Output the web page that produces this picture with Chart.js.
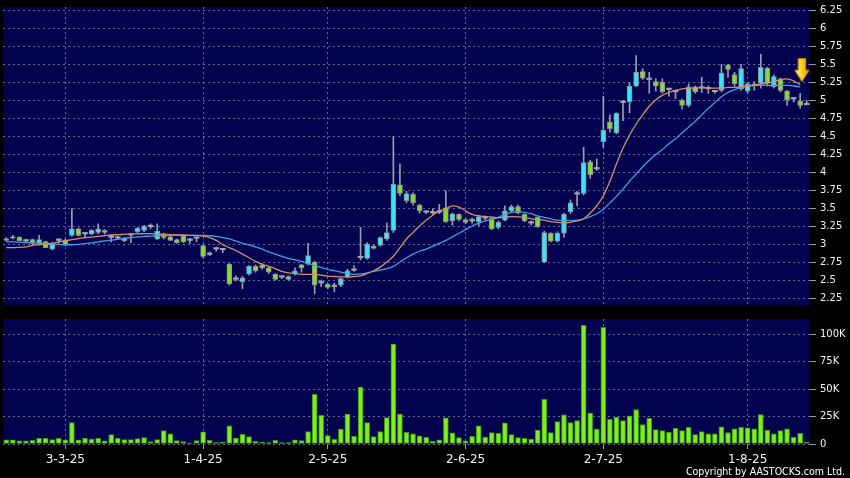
<!DOCTYPE html>
<html><head><meta charset="utf-8">
<script src="https://cdn.jsdelivr.net/npm/chart.js@4.4.1/dist/chart.umd.min.js"></script>
<style>
html,body{margin:0;padding:0;background:#000;width:850px;height:478px;overflow:hidden;}
#wrap{position:relative;width:850px;height:478px;background:#000;}
#pc{position:absolute;left:0;top:0;}
#vc{position:absolute;left:0;top:312px;}
#copy{position:absolute;right:5px;top:465px;color:#fff;font-family:'DejaVu Sans Condensed','DejaVu Sans',sans-serif;font-size:10.5px;line-height:12px;white-space:nowrap;}
</style></head>
<body><div id="wrap">
<canvas id="pc" width="850" height="312"></canvas>
<canvas id="vc" width="850" height="166"></canvas>
<div id="copy">Copyright by AASTOCKS.com Ltd.</div>
</div>
<script>
// ---- data ----
const opens  = [3.06,3.09,3.105,3.05,3.07,3.02,3.045,2.94,3.06,3.065, 3.13,3.22,3.15,3.15,3.17,3.20,3.10,3.09,3.06,3.15, 3.18,3.20,3.25,3.08,3.15,3.11,3.07,3.12,3.06,3.09, 2.99,2.86,2.94,2.93,2.73,2.52,2.49,2.60,2.70,2.72, 2.68,2.59,2.55,2.52,2.60,2.72,2.73,2.76,2.47,2.45, 2.42,2.44,2.55,2.64,2.82,2.81,2.95,2.99,3.08,3.20, 3.83,3.61,3.70,3.55,3.45,3.44,3.45,3.51,3.33,3.42, 3.35,3.33,3.32,3.37,3.37,3.24,3.34,3.47,3.53,3.42, 3.30,3.38,2.76,3.16,3.05,3.16,3.46,3.70,3.71,4.15, 4.05,4.43,4.70,4.55,4.97,4.98,5.20,5.40,5.29,5.26, 5.25,5.15,5.12,5.00,4.93,5.19,5.17,5.16,5.12,5.14, 5.49,5.36,5.16,5.13,5.23,5.24,5.45,5.19,5.30,5.13, 5.02,4.99,4.94];
const highs  = [3.10,3.13,3.11,3.08,3.08,3.13,3.05,3.03,3.08,3.08, 3.50,3.23,3.17,3.21,3.29,3.21,3.14,3.12,3.10,3.16, 3.24,3.27,3.29,3.29,3.16,3.12,3.08,3.13,3.09,3.10, 3.00,2.90,2.96,2.94,2.74,2.57,2.56,2.71,2.72,2.74, 2.69,2.60,2.57,2.57,2.68,2.73,3.02,2.77,2.51,2.46, 2.47,2.54,2.66,2.71,3.24,3.03,3.00,3.11,3.30,4.50, 4.12,3.74,3.72,3.56,3.47,3.50,3.56,3.75,3.44,3.43, 3.36,3.37,3.41,3.40,3.38,3.33,3.54,3.55,3.55,3.43, 3.33,3.39,3.19,3.17,3.18,3.44,3.62,3.74,4.35,4.17, 4.19,5.06,4.80,4.83,5.00,5.25,5.62,5.44,5.39,5.30, 5.30,5.17,5.13,5.02,5.23,5.20,5.32,5.20,5.14,5.50, 5.50,5.39,5.50,5.25,5.26,5.64,5.46,5.35,5.31,5.14, 5.04,5.10,5.00];
const lows   = [3.05,3.08,3.05,3.03,2.99,3.01,2.96,2.93,3.02,2.99, 3.12,3.12,3.10,3.14,3.15,3.15,3.04,3.07,3.04,3.03, 3.16,3.18,3.22,3.07,3.08,3.06,3.02,3.03,3.02,3.04, 2.82,2.85,2.91,2.89,2.44,2.50,2.39,2.58,2.62,2.66, 2.60,2.51,2.53,2.51,2.58,2.62,2.72,2.32,2.42,2.39, 2.35,2.42,2.54,2.63,2.79,2.80,2.94,2.98,3.06,3.17, 3.68,3.58,3.55,3.44,3.43,3.42,3.43,3.31,3.27,3.33, 3.29,3.30,3.26,3.34,3.21,3.22,3.33,3.45,3.43,3.32, 3.27,3.24,2.75,3.04,3.04,3.10,3.43,3.54,3.69,3.92, 4.03,4.35,4.56,4.54,4.72,4.83,5.19,5.29,5.10,5.13, 5.10,5.06,5.02,4.88,4.91,5.10,5.11,5.10,5.10,5.12, 5.32,5.20,5.14,5.10,5.14,5.17,5.20,5.17,5.12,4.93, 4.98,4.89,4.94];
const closes = [3.08,3.11,3.055,3.05,3.02,3.07,2.96,3.02,3.06,3.00, 3.22,3.13,3.15,3.20,3.22,3.17,3.10,3.09,3.06,3.13, 3.23,3.26,3.25,3.19,3.10,3.06,3.03,3.04,3.06,3.09, 2.84,2.89,2.94,2.93,2.46,2.52,2.54,2.70,2.64,2.68, 2.62,2.52,2.55,2.56,2.64,2.68,2.85,2.44,2.47,2.41, 2.42,2.53,2.64,2.67,2.82,3.01,2.98,3.10,3.17,3.84, 3.71,3.71,3.58,3.47,3.45,3.44,3.45,3.32,3.43,3.35, 3.31,3.33,3.39,3.37,3.22,3.31,3.47,3.53,3.44,3.33, 3.30,3.25,3.17,3.05,3.16,3.42,3.58,3.70,4.14,3.97, 4.05,4.59,4.61,4.82,4.97,5.20,5.39,5.31,5.29,5.20, 5.12,5.15,5.12,4.93,5.19,5.12,5.17,5.16,5.12,5.38, 5.43,5.23,5.44,5.23,5.20,5.46,5.24,5.33,5.14,5.01, 5.02,4.93,4.94];
// volume in thousands of shares
const volumesK = [3.7,3.7,2.8,2.8,3.4,5.2,5.2,4.0,5.2,3.7, 19.6,3.7,5.5,4.6,5.2,2.8,8.6,5.2,4.0,4.0, 4.9,5.8,2.1,4.0,12.3,9.2,3.1,2.1,0.9,3.1, 11.0,3.4,1.2,1.8,16.6,5.5,8.9,6.8,2.5,1.8, 1.2,3.4,1.2,1.2,3.7,3.1,11.4,45.4,26.1,7.7, 4.3,13.5,27.3,7.1,51.9,19.6,6.8,11.4,24.0,91.2, 27.3,10.7,9.2,7.4,6.1,2.4,3.7,23.9,10.1,5.8, 2.8,7.0,16.5,6.4,10.4,9.8,19.3,8.6,5.8,5.2, 4.6,12.8,40.7,10.4,20.5,26.6,19.6,21.4,108.3,28.1, 13.5,106.4,22.6,24.5,21.4,25.7,31.5,17.7,23.5,13.1, 12.2,10.7,14.4,12.2,15.3,8.6,11.3,9.2,9.2,15.6, 10.4,13.8,15.3,14.7,13.8,26.9,12.8,9.2,12.2,13.8, 6.4,9.8,1.8];
const maShort = [2.96,2.96,2.965,2.97,2.99,3.0,3.01,3.02,3.04,3.055, 3.07,3.085,3.10,3.105,3.115,3.125,3.135,3.14,3.145,3.15, 3.15,3.155,3.155,3.15,3.145,3.14,3.135,3.135,3.13,3.13, 3.12,3.10,3.06,3.0,2.96,2.92,2.87,2.82,2.77,2.73, 2.70,2.67,2.63,2.61,2.60,2.59,2.59,2.59,2.58,2.565, 2.56,2.555,2.555,2.56,2.57,2.60,2.64,2.69,2.76,2.84, 2.96,3.08,3.17,3.26,3.34,3.41,3.47,3.50,3.54,3.52, 3.47,3.42,3.40,3.39,3.385,3.375,3.38,3.39,3.385,3.375, 3.36,3.35,3.34,3.32,3.31,3.30,3.31,3.33,3.36,3.44, 3.54,3.68,3.88,4.12,4.34,4.52,4.67,4.80,4.92,5.01, 5.07,5.11,5.14,5.16,5.17,5.17,5.18,5.17,5.17,5.17, 5.18,5.18,5.19,5.20,5.21,5.23,5.24,5.26,5.29,5.30, 5.27,5.22,null];
const maLong = [3.04,3.04,3.035,3.03,3.025,3.02,3.015,3.01,3.005,3.0, 3.0,3.005,3.015,3.025,3.04,3.055,3.065,3.075,3.09,3.10, 3.11,3.115,3.12,3.125,3.13,3.13,3.13,3.13,3.13,3.13, 3.13,3.125,3.115,3.10,3.08,3.05,3.02,3.0,2.97,2.94, 2.90,2.87,2.84,2.81,2.79,2.77,2.74,2.71,2.685,2.66, 2.64,2.62,2.60,2.59,2.595,2.61,2.63,2.65,2.67,2.70, 2.76,2.82,2.87,2.91,2.94,2.98,3.02,3.06,3.11,3.16, 3.21,3.26,3.30,3.33,3.35,3.38,3.42,3.45,3.46,3.45, 3.43,3.40,3.38,3.36,3.34,3.335,3.335,3.34,3.36,3.39, 3.43,3.49,3.58,3.67,3.77,3.88,3.98,4.08,4.17,4.25, 4.32,4.40,4.47,4.55,4.63,4.71,4.80,4.89,4.97,5.05, 5.11,5.15,5.18,5.20,5.21,5.21,5.21,5.21,5.21,5.21, 5.20,5.19,null];
const categories = opens.map((_, i) => String(i));
const xTickIndex = [9, 30, 49, 70, 91, 113];
const xTickText  = ['3-3-25', '1-4-25', '2-5-25', '2-6-25', '2-7-25', '1-8-25'];
const priceTicks = [2.25,2.5,2.75,3,3.25,3.5,3.75,4,4.25,4.5,4.75,5,5.25,5.5,5.75,6,6.25];
const volumeTicksK = [0, 25, 50, 75, 100];
const priceRange = [2.165, 6.295];
const volumeRangeK = [0, 114];
const arrowIndex = 121, arrowValue = 5.42;

// ---- styles ----
const NAVY = '#02024f';
const GRID = 'rgba(125,125,178,0.8)';
const TICKC = '#9a9aa4';
const UP = '#36e6f4', DOWN = '#84dc2c', FLAT = '#a4a4ae';
const FONT = "'DejaVu Sans', Verdana, sans-serif";

const panelBg = {
  id: 'panelBg',
  beforeDraw(chart) {
    const {ctx, chartArea: a} = chart;
    ctx.save(); ctx.fillStyle = NAVY;
    ctx.fillRect(a.left, a.top, a.right - a.left, a.bottom - a.top);
    ctx.restore();
  }
};

function zeroPad(s) { s.paddingLeft = 0; s.paddingRight = 0; s.paddingTop = 0; s.paddingBottom = 0; }

function xAxis(showLabels) {
  return {
    type: 'category', offset: true,
    afterBuildTicks: s => { s.ticks = xTickIndex.map(i => ({value: i})); },
    afterFit: s => { zeroPad(s); s.height = showLabels ? 34 : 0; },
    grid: { offset: false, color: GRID, lineWidth: 1, drawTicks: showLabels, tickLength: 5, tickColor: TICKC, tickBorderDash: [] },
    border: { display: false, dash: [2, 3] },
    ticks: { display: showLabels, autoSkip: false, maxRotation: 0, minRotation: 0, padding: 4,
      color: '#f2f2f2', font: { family: FONT, size: 12 },
      callback: v => xTickText[xTickIndex.indexOf(v)] }
  };
}

function yAxis(range, tickList, fmt) {
  return {
    position: 'right', min: range[0], max: range[1],
    afterBuildTicks: s => { s.ticks = tickList.map(v => ({value: v})); },
    afterFit: s => { zeroPad(s); s.width = 40; },
    grid: { color: GRID, lineWidth: 1, drawTicks: true, tickLength: 6, tickColor: TICKC, tickBorderDash: [] },
    border: { display: false, dash: [2, 3] },
    ticks: { color: '#f2f2f2', font: { family: FONT, size: 10 }, padding: 4, callback: fmt }
  };
}

// arrow marker sprite
function makeArrow() {
  const c = document.createElement('canvas'); c.width = 20; c.height = 24;
  const g = c.getContext('2d'); const ox = 4.5;
  g.beginPath();
  g.moveTo(ox + 3.5, 0.5); g.lineTo(ox + 11, 0.5); g.lineTo(ox + 11, 12); g.lineTo(ox + 14.5, 12);
  g.lineTo(ox + 7.25, 23.5); g.lineTo(ox, 12); g.lineTo(ox + 3.5, 12); g.closePath();
  const grad = g.createLinearGradient(ox, 0, ox + 14.5, 0);
  grad.addColorStop(0, '#fff3a8'); grad.addColorStop(0.45, '#ffd526'); grad.addColorStop(1, '#dc9c00');
  g.fillStyle = grad; g.fill();
  g.strokeStyle = '#b88000'; g.lineWidth = 1; g.stroke();
  return c;
}

const bodyColor = (o, c) => c > o ? UP : (c < o ? DOWN : FLAT);

new Chart(document.getElementById('pc'), {
  type: 'bar',
  data: {
    labels: categories,
    datasets: [
      { type: 'line', label: 'arrow', data: categories.map((_, i) => i === arrowIndex ? arrowValue : null),
        showLine: false, pointStyle: makeArrow(), pointRadius: 10, order: 0 },
      { type: 'line', label: 'MA short', data: maShort, borderColor: '#d88d68', borderWidth: 1.3,
        pointRadius: 0, tension: 0.3, cubicInterpolationMode: 'monotone', order: 1 },
      { type: 'line', label: 'MA long', data: maLong, borderColor: '#3f9fe6', borderWidth: 1.3,
        pointRadius: 0, tension: 0.3, cubicInterpolationMode: 'monotone', order: 1 },
      { label: 'body', data: opens.map((o, i) => [o, closes[i]]),
        backgroundColor: opens.map((o, i) => bodyColor(o, closes[i])),
        borderColor: opens.map((o, i) => closes[i] === o ? FLAT : '#8e8e9c'),
        borderWidth: opens.map((o, i) => closes[i] === o ? 0 : 1),
        borderSkipped: false, barThickness: 5, minBarLength: 1.5, grouped: false, order: 2 },
      { label: 'wick', data: lows.map((l, i) => [l, highs[i]]),
        backgroundColor: '#9c9caa', borderWidth: 0, barThickness: 1, grouped: false, order: 3 }
    ]
  },
  options: {
    responsive: false, animation: false,
    layout: { autoPadding: false, padding: { left: 3, top: 7, bottom: 7, right: 0 } },
    plugins: { legend: { display: false }, tooltip: { enabled: false } },
    scales: {
      x: xAxis(false),
      y: yAxis(priceRange, priceTicks, v => String(v))
    }
  },
  plugins: [panelBg]
});

new Chart(document.getElementById('vc'), {
  type: 'bar',
  data: {
    labels: categories,
    datasets: [
      { label: 'volume', data: volumesK, backgroundColor: '#7cf01e', borderColor: '#3f9412',
        borderWidth: 1, borderSkipped: false, barThickness: 5 }
    ]
  },
  options: {
    responsive: false, animation: false,
    layout: { autoPadding: false, padding: { left: 3, top: 7, bottom: 0, right: 0 } },
    plugins: { legend: { display: false }, tooltip: { enabled: false } },
    scales: {
      x: xAxis(true),
      y: yAxis(volumeRangeK, volumeTicksK, v => v === 0 ? '0' : v + 'K')
    }
  },
  plugins: [panelBg]
});
</script>
</body></html>
